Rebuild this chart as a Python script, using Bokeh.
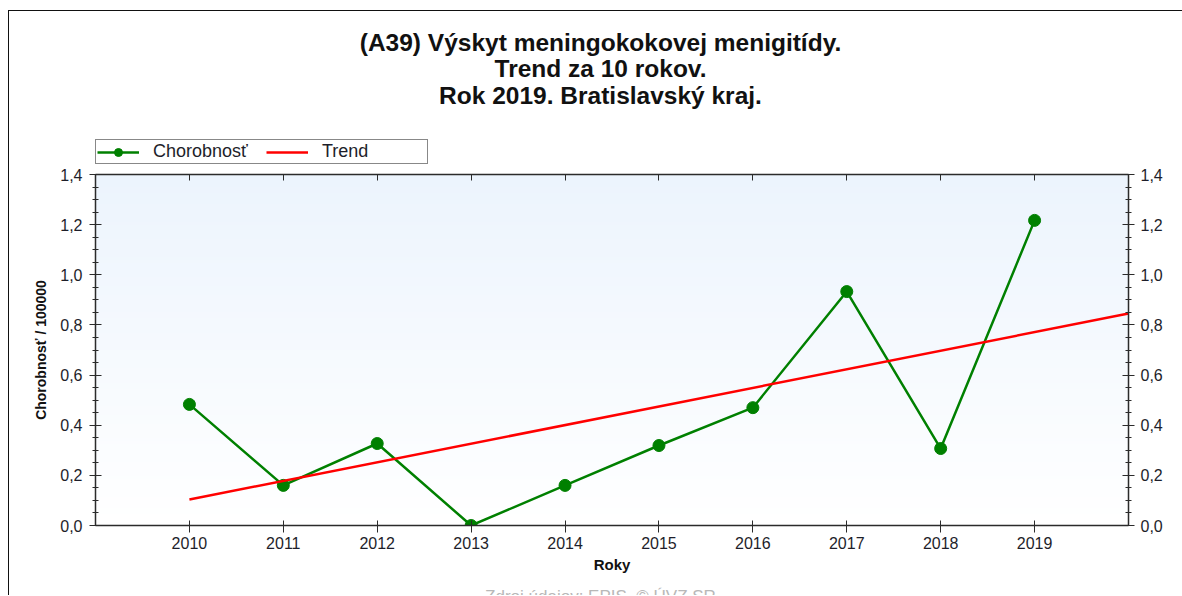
import numpy as np
from bokeh.plotting import figure
from bokeh.layouts import column
from bokeh.models import (LinearAxis, FixedTicker, CustomJSTickFormatter, Label,
                          Legend, LegendItem, Range1d)
from bokeh.embed import file_html
from bokeh.resources import INLINE

# ---- data ----
years = [2010, 2011, 2012, 2013, 2014, 2015, 2016, 2017, 2018, 2019]
chorobnost = [0.483, 0.160, 0.327, 0.0, 0.160, 0.319, 0.470, 0.933, 0.307, 1.217]
title_lines = ["(A39) Výskyt meningokokovej menigitídy.",
               "Trend za 10 rokov.",
               "Rok 2019. Bratislavský kraj."]
y_ticks = [0.0, 0.2, 0.4, 0.6, 0.8, 1.0, 1.2, 1.4]
y_minor = [round(i * 0.05, 2) for i in range(29)]
source_text = "Zdroj údajov: EPIS, © ÚVZ SR"
series_name = "Chorobnosť"
trend_name = "Trend"

# linear trend (least squares) over the 10 years, extended to 2020
coef = np.polyfit(years, chorobnost, 1)
trend_x = [2010, 2020]
trend_y = [float(np.polyval(coef, v)) for v in trend_x]

FONT = "Liberation Sans"
TXT = "#1e1e2a"
AX = "#2b2b2b"
GREEN = "#008000"
RED = "#ff0000"
W = 1173
ML, FW, FH = 86, 1033, 351
MR = W - ML - FW

# header/footer frames get aligned to the main frame (page x 95..1128),
# so their x range is expressed in page pixels
FX0 = 95

def blank_fig(h):
    f = figure(width=W, height=h, x_range=Range1d(FX0, FX0 + FW), y_range=Range1d(h, 0),
               x_axis_type=None, y_axis_type=None, output_backend="svg",
               toolbar_location=None, title=None, min_border=0,
               min_border_left=ML, min_border_right=MR)
    f.outline_line_color = None
    f.grid.visible = False
    return f

# ---------- header: title + legend ----------
head = blank_fig(155)
for txt, yy in zip(title_lines, [31, 57, 84]):
    head.add_layout(Label(x=600, y=yy, text=txt, text_align="center", text_baseline="middle",
                          text_font=FONT, text_font_size="24.5px", text_font_style="bold",
                          text_color="#111"))
# legend proxies (same data; they fall outside this header's ranges, so only the legend shows them)
lg_line = head.line(years, chorobnost, line_color=GREEN, line_width=2.5)
lg_pts = head.scatter(years, chorobnost, size=12, fill_color=GREEN, line_color=GREEN)
lg_trend = head.line(trend_x, trend_y, line_color=RED, line_width=2.5)
legend = Legend(items=[LegendItem(label=series_name, renderers=[lg_line, lg_pts]),
                       LegendItem(label=trend_name, renderers=[lg_trend])],
                orientation="horizontal", location=(0, 2))
legend.label_text_font = FONT
legend.label_text_font_size = "18px"
legend.label_text_color = TXT
legend.label_text_baseline = "middle"
legend.glyph_width = 42
legend.glyph_height = 20
legend.label_height = 14
legend.label_width = 104
legend.label_standoff = 14
legend.spacing = 9
legend.padding = 1
legend.margin = 0
legend.border_line_color = "#111"
legend.border_line_width = 1
legend.background_fill_color = "white"
legend.background_fill_alpha = 1
head.add_layout(legend, "center")

# ---------- main chart ----------
p = figure(frame_width=FW, frame_height=FH, x_range=Range1d(2009, 2020), y_range=Range1d(0, 1.4),
           output_backend="svg", toolbar_location=None, title=None,
           min_border_left=ML, min_border_right=MR, min_border_top=8, min_border_bottom=60)
p.outline_line_color = None
p.xgrid.visible = False
p.ygrid.visible = False
p.background_fill_color = "white"

# background gradient (decoration)
n = 120
img = np.empty((n, 1), dtype=np.uint32)
view = img.view(dtype=np.uint8).reshape((n, 1, 4))
for i in range(n):
    t = i / (n - 1)
    view[i, 0, 0] = int(round(255 - t * (255 - 236)))
    view[i, 0, 1] = int(round(255 - t * (255 - 244)))
    view[i, 0, 2] = int(round(255 - t * (255 - 253)))
    view[i, 0, 3] = 255
p.image_rgba(image=[img], x=2009, y=0, dw=11, dh=1.4)

fmt = CustomJSTickFormatter(code="return tick.toFixed(1).replace('.', ',');")

def style_axis(ax):
    ax.axis_line_color = AX
    ax.axis_line_width = 1.5
    ax.major_tick_line_color = AX
    ax.minor_tick_line_color = AX
    ax.major_label_text_color = TXT
    ax.major_label_text_font = FONT
    ax.major_label_text_font_size = "16px"
    ax.axis_label_text_font = FONT
    ax.axis_label_text_font_style = "bold"
    ax.axis_label_text_color = "#111"

# bottom axis
xa = p.xaxis[0]
style_axis(xa)
xa.ticker = FixedTicker(ticks=years)
xa.major_tick_in = 5
xa.major_tick_out = 7
xa.minor_tick_in = 0
xa.minor_tick_out = 0
xa.major_label_standoff = 4
xa.axis_label = "Roky"
xa.axis_label_text_font_size = "15px"
xa.axis_label_standoff = 4

# left axis
ya = p.yaxis[0]
style_axis(ya)
ya.ticker = FixedTicker(ticks=y_ticks, minor_ticks=y_minor)
ya.formatter = fmt
ya.major_tick_in = 6
ya.major_tick_out = 6
ya.minor_tick_in = 3
ya.minor_tick_out = 3
ya.major_label_standoff = 7
ya.axis_label = "Chorobnosť / 100000"
ya.axis_label_text_font_size = "14px"
ya.axis_label_standoff = 8

# right axis
ra = LinearAxis(ticker=FixedTicker(ticks=y_ticks, minor_ticks=y_minor), formatter=fmt)
style_axis(ra)
ra.major_tick_in = 6
ra.major_tick_out = 6
ra.minor_tick_in = 3
ra.minor_tick_out = 3
ra.major_label_standoff = 6
p.add_layout(ra, "right")

# top axis (ticks only)
ta = LinearAxis(ticker=FixedTicker(ticks=years), formatter=CustomJSTickFormatter(code="return '';"))
style_axis(ta)
ta.major_tick_in = 6
ta.major_tick_out = 0
ta.minor_tick_in = 0
ta.minor_tick_out = 0
ta.major_label_standoff = 0
p.add_layout(ta, "above")

# series
p.line(years, chorobnost, line_color=GREEN, line_width=2.5)
p.scatter(years, chorobnost, size=12, fill_color=GREEN, line_color=GREEN)
p.line(trend_x, trend_y, line_color=RED, line_width=2.5)

# ---------- footer: source note (cut at the bottom like the reference) ----------
foot = blank_fig(10)
foot.add_layout(Label(x=600, y=9, text=source_text, text_align="center", text_baseline="middle",
                      text_font=FONT, text_font_size="17px", text_color="#b8b8b8"))

layout = column(head, p, foot, spacing=0,
                styles={"border-top": "1px solid #111", "border-left": "1px solid #111",
                        "margin-top": "10px", "margin-left": "8px"})

open("out.html", "w").write(file_html(layout, INLINE))
